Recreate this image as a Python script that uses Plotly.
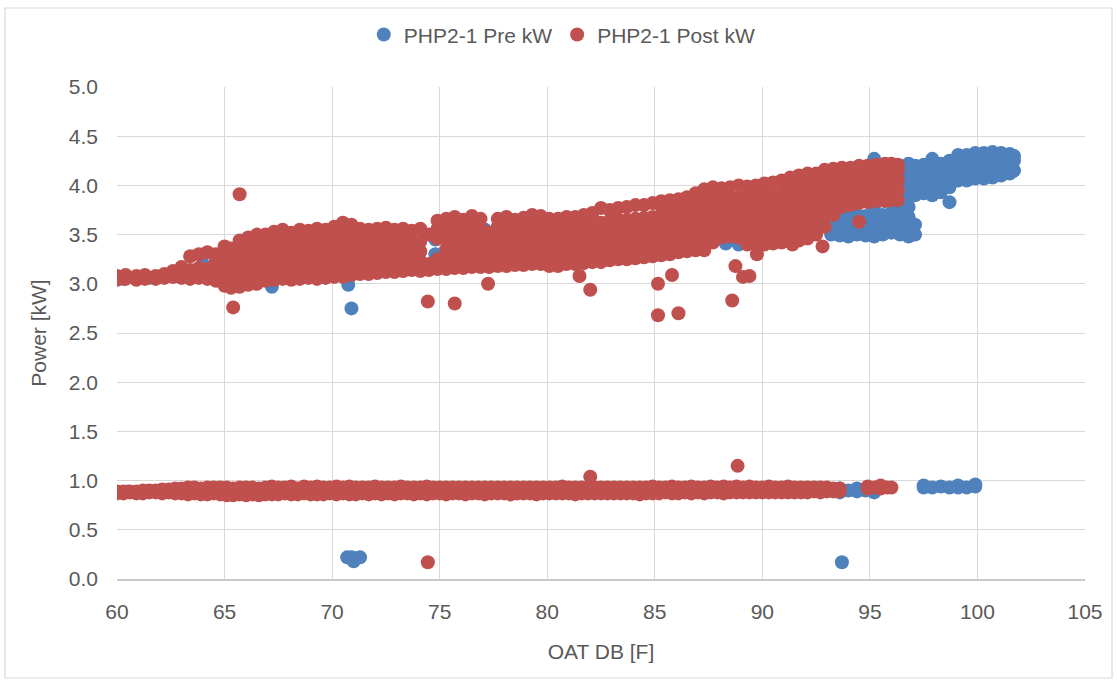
import plotly.graph_objects as go

# ---- PHP2-1 Post kW (red) ----
# Main operating band: each x (OAT, F) carries the kW readings logged at that temperature
post_band_x = [60.0, 60.4, 60.9, 61.3, 61.8, 62.2, 62.6, 63.0, 63.4, 63.8, 64.2, 64.6,
               65.0, 65.3, 65.7, 66.1, 66.5, 66.9, 67.3, 67.7, 68.1, 68.5, 68.9, 69.3,
               69.7, 70.1, 70.5, 70.9, 71.3, 71.7, 72.1, 72.5, 72.9, 73.3, 73.7, 74.1,
               74.5, 74.9, 75.3, 75.7, 76.1, 76.5, 76.9, 77.3, 77.7, 78.1, 78.5, 78.9,
               79.3, 79.7, 80.1, 80.5, 80.9, 81.3, 81.7, 82.1, 82.5, 82.9, 83.3, 83.7,
               84.1, 84.5, 84.9, 85.3, 85.7, 86.1, 86.5, 86.9, 87.3, 87.7, 88.1, 88.5,
               88.9, 89.3, 89.7, 90.1, 90.5, 90.9, 91.3, 91.7, 92.1, 92.5, 92.9, 93.3,
               93.7, 94.1, 94.5, 94.9, 95.3, 95.7, 96.0, 96.3]
post_band_y = [
    [3.04, 3.08], [3.05, 3.09], [3.04, 3.08], [3.05, 3.09], [3.05, 3.08], [3.06, 3.10],
    [3.07, 3.13], [3.06, 3.12, 3.17], [3.05, 3.14, 3.28], [3.06, 3.16, 3.30],
    [3.05, 3.15, 3.32], [3.03, 3.13, 3.23, 3.30],
    [2.98, 3.08, 3.18, 3.28, 3.38], [2.96, 3.06, 3.16, 3.26, 3.36],
    [2.97, 3.07, 3.17, 3.27, 3.37, 3.44], [2.99, 3.09, 3.19, 3.29, 3.39, 3.47],
    [3.00, 3.10, 3.20, 3.30, 3.40, 3.50], [3.03, 3.13, 3.23, 3.33, 3.43, 3.50],
    [3.04, 3.14, 3.24, 3.34, 3.44, 3.53], [3.05, 3.15, 3.25, 3.35, 3.45, 3.55],
    [3.04, 3.14, 3.24, 3.34, 3.44, 3.52], [3.05, 3.15, 3.25, 3.35, 3.45, 3.55],
    [3.06, 3.16, 3.26, 3.36, 3.46, 3.54], [3.05, 3.15, 3.25, 3.35, 3.45, 3.56],
    [3.06, 3.16, 3.26, 3.36, 3.46, 3.55], [3.07, 3.17, 3.27, 3.37, 3.47, 3.58],
    [3.07, 3.17, 3.27, 3.37, 3.47, 3.57, 3.62], [3.09, 3.19, 3.29, 3.39, 3.49, 3.60],
    [3.10, 3.20, 3.30, 3.40, 3.50, 3.56], [3.10, 3.20, 3.30, 3.40, 3.50, 3.55],
    [3.11, 3.21, 3.31, 3.41, 3.51, 3.56], [3.12, 3.22, 3.32, 3.42, 3.52, 3.57],
    [3.12, 3.22, 3.32, 3.42, 3.52, 3.55], [3.13, 3.23, 3.33, 3.43, 3.53, 3.56],
    [3.14, 3.24, 3.34, 3.44, 3.54], [3.13, 3.23, 3.33, 3.43, 3.56],
    [3.14, 3.20, 3.50], [3.15, 3.25, 3.46, 3.56, 3.64],
    [3.15, 3.25, 3.35, 3.45, 3.55, 3.66], [3.16, 3.26, 3.36, 3.46, 3.56, 3.68],
    [3.16, 3.26, 3.36, 3.46, 3.56, 3.65], [3.17, 3.27, 3.37, 3.47, 3.57, 3.69],
    [3.17, 3.27, 3.37, 3.47, 3.57, 3.66], [3.17, 3.27, 3.37, 3.47, 3.52],
    [3.18, 3.28, 3.38, 3.48, 3.58, 3.66], [3.18, 3.28, 3.38, 3.48, 3.58, 3.68],
    [3.19, 3.29, 3.39, 3.49, 3.59, 3.65], [3.19, 3.29, 3.39, 3.49, 3.59, 3.67],
    [3.20, 3.30, 3.40, 3.50, 3.60, 3.70], [3.20, 3.30, 3.40, 3.50, 3.60, 3.69],
    [3.18, 3.28, 3.38, 3.48, 3.58, 3.66], [3.18, 3.28, 3.38, 3.48, 3.58, 3.66],
    [3.20, 3.30, 3.40, 3.50, 3.60, 3.68], [3.20, 3.30, 3.40, 3.50, 3.60, 3.68],
    [3.21, 3.31, 3.41, 3.51, 3.61, 3.70], [3.22, 3.32, 3.42, 3.52, 3.62, 3.72],
    [3.22, 3.32, 3.42, 3.52, 3.62, 3.77], [3.24, 3.34, 3.44, 3.54, 3.64, 3.75],
    [3.25, 3.35, 3.45, 3.55, 3.65, 3.77], [3.25, 3.35, 3.45, 3.55, 3.65, 3.78],
    [3.26, 3.36, 3.46, 3.56, 3.66, 3.80], [3.27, 3.37, 3.47, 3.57, 3.67, 3.80],
    [3.28, 3.38, 3.48, 3.58, 3.68, 3.82], [3.29, 3.39, 3.49, 3.59, 3.69, 3.79, 3.84],
    [3.30, 3.40, 3.50, 3.60, 3.70, 3.80, 3.85], [3.32, 3.42, 3.52, 3.62, 3.72, 3.82, 3.86],
    [3.33, 3.43, 3.53, 3.63, 3.73, 3.83, 3.88], [3.34, 3.44, 3.54, 3.64, 3.74, 3.84, 3.92],
    [3.34, 3.44, 3.54, 3.64, 3.74, 3.84, 3.96], [3.42, 3.52, 3.62, 3.72, 3.82, 3.92, 3.98],
    [3.47, 3.57, 3.67, 3.77, 3.87, 3.97], [3.48, 3.58, 3.68, 3.78, 3.88, 3.98],
    [3.47, 3.57, 3.67, 3.77, 3.87, 4.00], [3.40, 3.50, 3.60, 3.70, 3.80, 3.90, 3.99],
    [3.40, 3.50, 3.60, 3.70, 3.80, 3.90, 4.00], [3.40, 3.50, 3.60, 3.70, 3.80, 3.90, 4.02],
    [3.41, 3.51, 3.61, 3.71, 3.81, 3.91, 4.03], [3.42, 3.52, 3.62, 3.72, 3.82, 3.92, 4.05],
    [3.43, 3.53, 3.63, 3.73, 3.83, 3.93, 4.03, 4.08],
    [3.44, 3.54, 3.64, 3.74, 3.84, 3.94, 4.04, 4.10],
    [3.46, 3.56, 3.66, 3.76, 3.86, 3.96, 4.06, 4.12],
    [3.50, 3.60, 3.70, 3.80, 3.90, 4.00, 4.12], [3.58, 3.68, 3.78, 3.88, 3.98, 4.08, 4.16],
    [3.70, 3.80, 3.90, 4.00, 4.10, 4.17], [3.78, 3.88, 3.98, 4.08, 4.18],
    [3.80, 3.90, 4.00, 4.10, 4.18], [3.82, 3.92, 4.02, 4.12, 4.20],
    [3.83, 3.93, 4.03, 4.13, 4.20], [3.84, 3.94, 4.04, 4.14, 4.21],
    [3.84, 3.94, 4.04, 4.14, 4.22], [3.85, 3.95, 4.05, 4.15, 4.22],
    [3.85, 3.95, 4.05, 4.15, 4.21],
]

# Idle / fan-only readings near 0.9 kW
post_base_x = [60.0, 60.3, 60.6, 60.9, 61.2, 61.5, 61.8, 62.1, 62.4, 62.7, 63.0, 63.3,
               63.6, 63.9, 64.2, 64.5, 64.8, 65.1, 65.4, 65.7, 66.0, 66.3, 66.6, 66.9,
               67.2, 67.5, 67.8, 68.1, 68.4, 68.7, 69.0, 69.3, 69.6, 69.9, 70.2, 70.5,
               70.8, 71.1, 71.4, 71.7, 72.0, 72.3, 72.6, 72.9, 73.2, 73.5, 73.8, 74.1,
               74.4, 74.7, 75.0, 75.3, 75.6, 75.9, 76.2, 76.5, 76.8, 77.1, 77.4, 77.7,
               78.0, 78.3, 78.6, 78.9, 79.2, 79.5, 79.8, 80.1, 80.4, 80.7, 81.0, 81.3,
               81.6, 81.9, 82.2, 82.5, 82.8, 83.1, 83.4, 83.7, 84.0, 84.3, 84.6, 84.9,
               85.2, 85.5, 85.8, 86.1, 86.4, 86.7, 87.0, 87.3, 87.6, 87.9, 88.2, 88.5,
               88.8, 89.1, 89.4, 89.7, 90.0, 90.3, 90.6, 90.9, 91.2, 91.5, 91.8, 92.1,
               92.4, 92.7, 93.0, 93.3, 93.6, 94.9, 95.2, 95.5, 95.8, 96.0]
post_base_y = [
    [0.87, 0.89], [0.87, 0.89], [0.88, 0.89], [0.87, 0.89], [0.87, 0.90], [0.88, 0.90],
    [0.88, 0.90], [0.87, 0.91], [0.88, 0.91], [0.87, 0.92], [0.87, 0.92], [0.86, 0.93],
    [0.87, 0.93], [0.86, 0.92], [0.86, 0.93], [0.87, 0.93], [0.86, 0.93], [0.85, 0.93],
    [0.85, 0.92], [0.86, 0.93], [0.85, 0.93], [0.86, 0.93], [0.85, 0.92], [0.86, 0.93],
    [0.86, 0.94], [0.86, 0.93], [0.87, 0.93], [0.86, 0.94], [0.86, 0.92], [0.87, 0.94],
    [0.86, 0.93], [0.86, 0.94], [0.86, 0.93], [0.87, 0.93], [0.86, 0.94], [0.87, 0.93],
    [0.86, 0.94], [0.86, 0.93], [0.87, 0.93], [0.86, 0.93], [0.87, 0.94], [0.86, 0.93],
    [0.87, 0.93], [0.86, 0.93], [0.87, 0.94], [0.87, 0.93], [0.86, 0.93], [0.87, 0.93],
    [0.86, 0.94], [0.87, 0.93], [0.87, 0.93], [0.86, 0.93], [0.87, 0.93], [0.87, 0.93],
    [0.86, 0.93], [0.87, 0.93], [0.87, 0.93], [0.86, 0.93], [0.87, 0.93], [0.87, 0.93],
    [0.87, 0.93], [0.86, 0.93], [0.87, 0.93], [0.87, 0.93], [0.87, 0.93], [0.86, 0.93],
    [0.87, 0.93], [0.87, 0.93], [0.87, 0.93], [0.87, 0.94], [0.87, 0.93], [0.86, 0.93],
    [0.87, 0.93], [0.87, 0.93], [0.87, 0.93], [0.87, 0.93], [0.87, 0.93], [0.87, 0.93],
    [0.87, 0.93], [0.87, 0.93], [0.87, 0.93], [0.86, 0.93], [0.87, 0.93], [0.87, 0.94],
    [0.87, 0.93], [0.88, 0.93], [0.87, 0.94], [0.87, 0.93], [0.88, 0.93], [0.87, 0.94],
    [0.88, 0.93], [0.87, 0.93], [0.88, 0.94], [0.88, 0.93], [0.87, 0.94], [0.88, 0.93],
    [0.88, 0.94], [0.88, 0.93], [0.88, 0.94], [0.88, 0.93], [0.88, 0.93], [0.88, 0.94],
    [0.88, 0.93], [0.88, 0.93], [0.88, 0.94], [0.88, 0.93], [0.88, 0.93], [0.88, 0.93],
    [0.89, 0.93], [0.88, 0.93], [0.89, 0.93], [0.89, 0.92], [0.89, 0.92],
    [0.92, 0.94], [0.93], [0.92, 0.95], [0.93], [0.93],
]

# Isolated readings away from the two bands
post_stray_x = [65.7, 65.4, 74.45, 75.7, 77.25, 81.5, 82.0, 85.15, 85.15, 86.1, 85.8,
                88.6, 88.75, 89.1, 89.4, 89.75, 91.4, 92.8, 94.5, 82.0, 88.85, 74.45]
post_stray_y = [3.91, 2.76, 2.82, 2.80, 3.00, 3.08, 2.94, 3.00, 2.68, 2.70, 3.09,
                2.83, 3.18, 3.07, 3.08, 3.30, 3.40, 3.38, 3.63, 1.04, 1.15, 0.17]

# ---- PHP2-1 Pre kW (blue) ----
pre_band_x = [60.3, 61.5, 62.8, 64.0, 65.2, 66.4, 67.6, 68.8, 70.0, 71.2, 72.4, 73.6,
              74.8, 76.0, 77.1, 78.4, 79.6, 80.8, 82.0, 83.2, 84.4, 85.6, 86.8, 88.0,
              89.2, 90.4, 91.6, 92.6,
              93.2, 93.6, 94.0, 94.4, 94.8, 95.2, 95.6, 96.0, 96.4, 96.8, 97.1,
              97.5, 97.9, 98.3, 98.7, 99.1, 99.5, 99.9, 100.3, 100.7, 101.1, 101.5, 101.7]
pre_band_y = [
    [3.05], [3.06], [3.08], [3.10, 3.20], [3.10, 3.25], [3.15, 3.30], [3.15, 3.30, 3.40],
    [3.20, 3.35], [3.20, 3.35], [3.25, 3.40], [3.25, 3.40], [3.30, 3.45], [3.30, 3.45],
    [3.35, 3.50], [3.35, 3.55], [3.35, 3.50], [3.40, 3.55], [3.40, 3.55], [3.45, 3.60],
    [3.45, 3.60], [3.50, 3.65], [3.50, 3.65], [3.55, 3.70], [3.55, 3.75], [3.60, 3.80],
    [3.65, 3.85], [3.70, 3.90], [3.75, 3.95],
    [3.50, 3.60], [3.49, 3.59, 3.69], [3.48, 3.58, 3.68], [3.50, 3.60, 3.70],
    [3.49, 3.59, 3.69], [3.48, 3.58, 3.68, 3.78, 3.88, 3.98, 4.08, 4.18, 4.27],
    [3.50, 3.60, 3.70], [3.52, 3.62, 3.72],
    [3.50, 3.60, 3.70, 3.80, 3.90, 4.00, 4.10, 4.20],
    [3.48, 3.58, 3.68, 3.78, 3.88, 3.98, 4.08, 4.18, 4.22],
    [3.50, 3.60, 3.90, 4.00, 4.10, 4.20],
    [3.92, 4.02, 4.12, 4.21], [3.90, 4.00, 4.10, 4.20, 4.27], [3.93, 4.03, 4.13, 4.22],
    [3.83, 3.98, 4.08, 4.18, 4.25], [4.05, 4.15, 4.25, 4.31], [4.05, 4.15, 4.25, 4.31],
    [4.07, 4.17, 4.27, 4.33], [4.07, 4.17, 4.27, 4.33], [4.08, 4.18, 4.28, 4.34],
    [4.10, 4.20, 4.30, 4.33], [4.12, 4.22, 4.32], [4.15, 4.25, 4.30],
]

pre_base_x = [60.5, 62.5, 64.5, 66.5, 68.5, 70.5, 72.5, 74.5, 76.5, 78.5, 80.5, 82.5,
              84.5, 86.5, 88.5, 90.5, 92.5, 93.6, 94.0, 94.4, 94.8, 95.2,
              97.5, 97.9, 98.3, 98.7, 99.1, 99.5, 99.9]
pre_base_y = [
    [0.89], [0.90], [0.90], [0.89], [0.90], [0.90], [0.89], [0.90], [0.90], [0.89],
    [0.90], [0.90], [0.89], [0.90], [0.90], [0.90], [0.90], [0.88, 0.92], [0.90],
    [0.89, 0.92], [0.90], [0.88],
    [0.93, 0.95], [0.93], [0.94], [0.93], [0.93, 0.95], [0.93], [0.94, 0.96],
]

pre_stray_x = [67.2, 70.75, 70.9, 77.1, 88.3, 88.9, 70.7, 70.9, 71.1, 71.3, 71.0, 93.7]
pre_stray_y = [2.97, 2.99, 2.75, 3.55, 3.41, 3.40, 0.22, 0.22, 0.21, 0.22, 0.18, 0.17]

# Axis ticks
x_ticks = [60, 65, 70, 75, 80, 85, 90, 95, 100, 105]
y_ticks = [0.0, 0.5, 1.0, 1.5, 2.0, 2.5, 3.0, 3.5, 4.0, 4.5, 5.0]


def pair_columns(xs, cols):
    """Pair each temperature with every reading logged at it."""
    out_x, out_y = [], []
    for x, col in zip(xs, cols):
        for y in col:
            out_x.append(x)
            out_y.append(y)
    return out_x, out_y


def series(band_x, band_y, base_x, base_y, stray_x, stray_y):
    bx, by = pair_columns(band_x, band_y)
    lx, ly = pair_columns(base_x, base_y)
    return bx + lx + list(stray_x), by + ly + list(stray_y)


pre_x, pre_y = series(pre_band_x, pre_band_y, pre_base_x, pre_base_y,
                      pre_stray_x, pre_stray_y)
post_x, post_y = series(post_band_x, post_band_y, post_base_x, post_base_y,
                        post_stray_x, post_stray_y)

FONT = "Liberation Sans, Arial, sans-serif"
TXT = "#595959"
GRID = "#d9d9d9"
DOT = 14

fig = go.Figure()
fig.add_trace(go.Scatter(x=pre_x, y=pre_y, mode="markers", name="PHP2-1 Pre kW",
                         marker=dict(color="#4f81bd", size=DOT, line=dict(width=0))))
fig.add_trace(go.Scatter(x=post_x, y=post_y, mode="markers", name="PHP2-1 Post kW",
                         marker=dict(color="#c0504d", size=DOT, line=dict(width=0))))

fig.update_layout(
    width=1117, height=683,
    margin=dict(l=117, r=32, t=87, b=104),
    paper_bgcolor="white", plot_bgcolor="white",
    font=dict(family=FONT, size=21, color=TXT),
    showlegend=True,
    legend=dict(orientation="h", x=0.46, xanchor="center", y=1.106, yanchor="middle",
                font=dict(family=FONT, size=21, color=TXT), itemwidth=30,
                bgcolor="rgba(0,0,0,0)"),
    xaxis=dict(range=[60, 105], tickvals=x_ticks, ticktext=[str(v) for v in x_ticks],
               showgrid=True, gridcolor=GRID, gridwidth=1.4,
               showline=True, linecolor="#c8c8c8", linewidth=1.6,
               zeroline=False, ticks="", ticklabelstandoff=13,
               title=dict(text="OAT DB [F]", standoff=22,
                          font=dict(family=FONT, size=21, color=TXT))),
    yaxis=dict(range=[0, 5], tickvals=y_ticks, ticktext=[f"{v:.1f}" for v in y_ticks],
               showgrid=True, gridcolor=GRID, gridwidth=1.4,
               showline=False, zeroline=False, ticks="", ticklabelstandoff=18,
               title=dict(text="Power [kW]", standoff=16,
                          font=dict(family=FONT, size=21, color=TXT))),
    shapes=[dict(type="rect", xref="paper", yref="paper",
                 x0=-0.1157, x1=1.0279, y0=-0.2012, y1=1.1606,
                 line=dict(color=GRID, width=1.2), layer="below")],
)

fig.write_html("out.html")
